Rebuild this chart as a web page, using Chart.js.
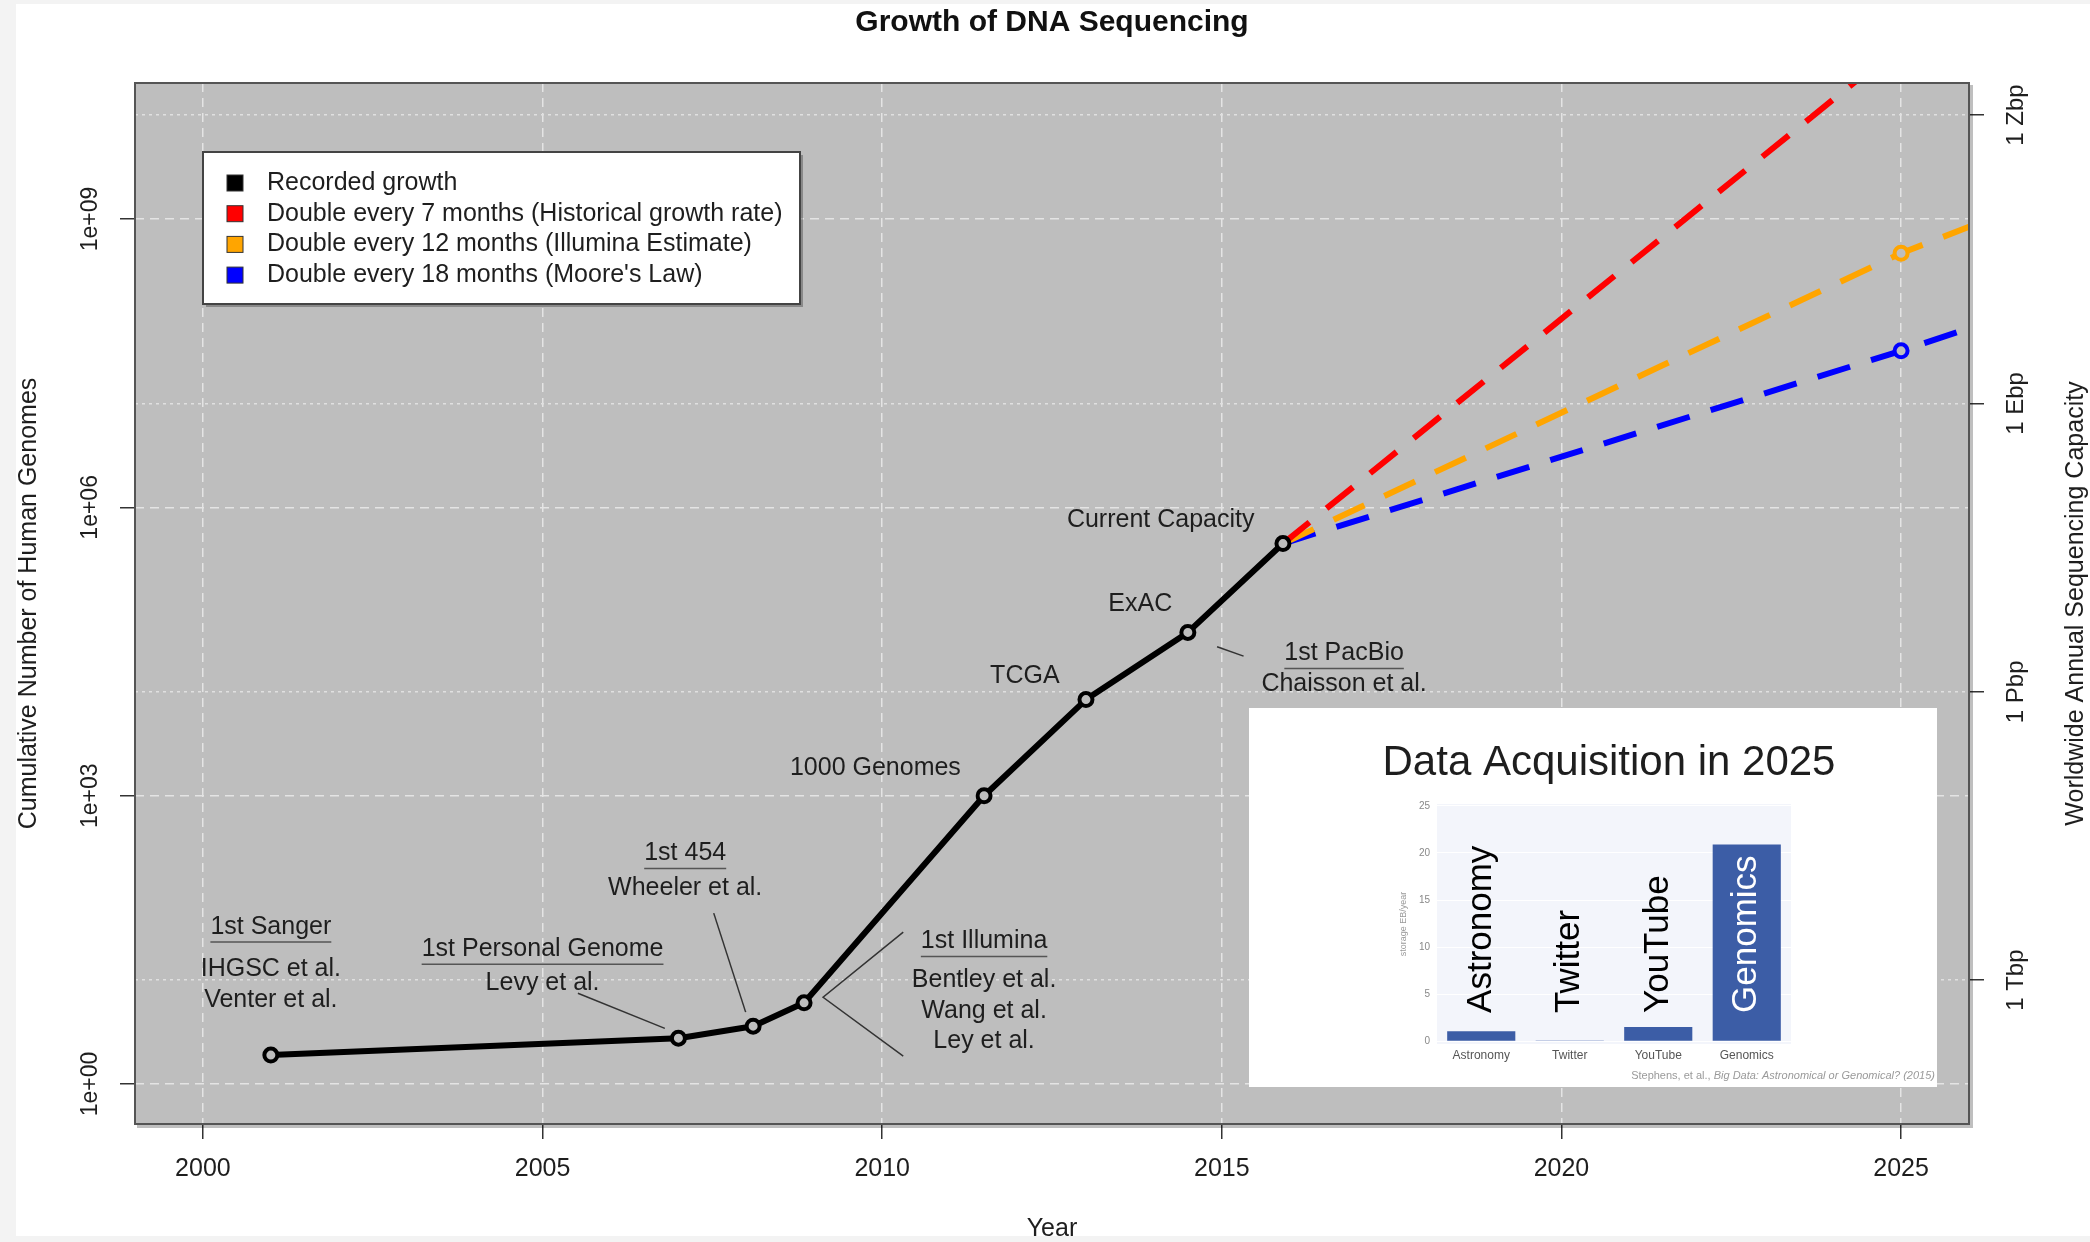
<!DOCTYPE html>
<html>
<head>
<meta charset="utf-8">
<title>Growth of DNA Sequencing</title>
<script src="https://cdn.jsdelivr.net/npm/chart.js@4.4.1/dist/chart.umd.min.js"></script>
<style>
  html, body { margin: 0; padding: 0; background: #f3f3f3; }
  #wrap { position: relative; width: 2090px; height: 1242px; overflow: hidden; }
  #sheet { position: absolute; left: 16px; top: 4px; width: 2074px; height: 1232px; background: #fff; }
  #main { position: absolute; left: 0; top: 0; }
  #inset { position: absolute; left: 1249px; top: 708px; background: #fff; }
</style>
</head>
<body>
<div id="wrap">
  <div id="sheet"></div>
  <canvas id="main" width="2090" height="1242"></canvas>
  <canvas id="inset" width="688" height="379"></canvas>
</div>
<script>
// recorded growth (cumulative human genomes)
const recordedYears = [2001.0, 2007.0, 2008.1, 2008.85, 2011.5, 2013.0, 2014.5, 2015.9];
const recordedGenomes = [2, 3, 4, 7, 1000, 10000, 50000, 420000];

// projections from current capacity
const projectionYears = [2015.9, 2025, 2026];
const double7 = [420000, 6.5e10, 2.4e11];
const double12 = [420000, 4.4e8, 8.3e8];
const double18 = [420000, 4.25e7, 7.3e7];

// axes
const yearTicks = [2000, 2005, 2010, 2015, 2020, 2025];
const genomeTicks = [1, 1e3, 1e6, 1e9];
const genomeTickLabels = ['1e+00', '1e+03', '1e+06', '1e+09'];
const capacityTicks = [1e12, 1e15, 1e18, 1e21];
const capacityTickLabels = ['1 Tbp', '1 Pbp', '1 Ebp', '1 Zbp'];
const bpPerGenome = 8.3e10;
const yMin = 0.384, yMax = 2.6e10;

// text notes: [text, year, genomes, underlined]
const notes = [
  ['1st Sanger', 2001.0, 43, true],
  ['IHGSC et al.', 2001.0, 15.6, false],
  ['Venter et al.', 2001.0, 7.5, false],
  ['1st Personal Genome', 2005.0, 25.2, true],
  ['Levy et al.', 2005.0, 11.3, false],
  ['1st 454', 2007.1, 250, true],
  ['Wheeler et al.', 2007.1, 109, false],
  ['1st Illumina', 2011.5, 30.5, true],
  ['Bentley et al.', 2011.5, 12.1, false],
  ['Wang et al.', 2011.5, 5.8, false],
  ['Ley et al.', 2011.5, 2.78, false],
  ['1000 Genomes', 2009.9, 1940, false],
  ['TCGA', 2012.1, 17500, false],
  ['ExAC', 2013.8, 98000, false],
  ['Current Capacity', 2014.1, 736000, false],
  ['1st PacBio', 2016.8, 30200, true],
  ['Chaisson et al.', 2016.8, 14500, false]
];
const leaders = [
  [[2005.52, 8.8], [2006.8, 3.8]],
  [[2007.52, 60], [2007.99, 5.6]],
  [[2010.31, 38], [2009.13, 8.0], [2010.31, 1.95]],
  [[2014.93, 35400], [2015.32, 28300]]
];

// inset: data acquisition in 2025
const insetCategories = ['Astronomy', 'Twitter', 'YouTube', 'Genomics'];
const insetStorage = [1.05, 0.03, 1.5, 20.9];
const insetTicks = [0, 5, 10, 15, 20, 25];

const FONT = '"Liberation Sans", Arial, Helvetica, sans-serif';
Chart.defaults.font.family = FONT;
Chart.defaults.color = '#1e1e1e';

function pts(xs, ys) {
  return xs.map((x, i) => ({ x: x, y: ys[i] }));
}

const mainDecor = {
  id: 'mainDecor',
  beforeDraw(chart) {
    const { ctx, chartArea: a } = chart;
    ctx.save();
    ctx.fillStyle = '#bebebe';
    ctx.fillRect(a.left, a.top, a.right - a.left, a.bottom - a.top);
    ctx.restore();
  },
  afterDatasetsDraw(chart) {
    const { ctx, scales: { x, y } } = chart;
    ctx.save();
    ctx.strokeStyle = '#333';
    ctx.lineWidth = 1.5;
    leaders.forEach(path => {
      ctx.beginPath();
      path.forEach(([yr, v], i) => {
        const px = x.getPixelForValue(yr), py = y.getPixelForValue(v);
        if (i) ctx.lineTo(px, py); else ctx.moveTo(px, py);
      });
      ctx.stroke();
    });
    ctx.font = '25px ' + FONT;
    ctx.textAlign = 'center';
    ctx.textBaseline = 'middle';
    notes.forEach(([text, yr, v, underline]) => {
      const px = x.getPixelForValue(yr), py = y.getPixelForValue(v);
      ctx.fillStyle = '#1e1e1e';
      ctx.fillText(text, px, py);
      if (underline) {
        const w = ctx.measureText(text).width;
        ctx.strokeStyle = '#555';
        ctx.beginPath();
        ctx.moveTo(px - w / 2, py + 15);
        ctx.lineTo(px + w / 2, py + 15);
        ctx.stroke();
      }
    });
    ctx.restore();
  },
  afterDraw(chart) {
    const { ctx, chartArea: a, scales } = chart;
    ctx.save();
    // plot frame
    ctx.strokeStyle = 'rgba(0,0,0,0.25)';
    ctx.lineWidth = 3;
    ctx.beginPath();
    ctx.moveTo(a.right + 2.5, a.top + 2);
    ctx.lineTo(a.right + 2.5, a.bottom + 2.5);
    ctx.lineTo(a.left + 2, a.bottom + 2.5);
    ctx.stroke();
    ctx.strokeStyle = '#555';
    ctx.lineWidth = 2;
    ctx.strokeRect(a.left, a.top, a.right - a.left, a.bottom - a.top);

    // rotated y tick labels
    ctx.fillStyle = '#1e1e1e';
    ctx.textAlign = 'center';
    ctx.textBaseline = 'middle';
    ctx.font = '23px ' + FONT;
    genomeTicks.forEach((v, i) => {
      ctx.save();
      ctx.translate(a.left - 44, scales.y.getPixelForValue(v));
      ctx.rotate(-Math.PI / 2);
      ctx.fillText(genomeTickLabels[i], 0, 0);
      ctx.restore();
    });
    ctx.font = '24px ' + FONT;
    capacityTicks.forEach((v, i) => {
      ctx.save();
      ctx.translate(a.right + 47, scales.y2.getPixelForValue(v));
      ctx.rotate(-Math.PI / 2);
      ctx.fillText(capacityTickLabels[i], 0, 0);
      ctx.restore();
    });
    ctx.font = '25px ' + FONT;
    ctx.save();
    ctx.translate(a.right + 107, (a.top + a.bottom) / 2);
    ctx.rotate(-Math.PI / 2);
    ctx.fillText('Worldwide Annual Sequencing Capacity', 0, 0);
    ctx.restore();

    // legend box
    const lx = a.left + 68, ly = a.top + 69, lw = 597, lh = 152;
    ctx.fillStyle = 'rgba(0,0,0,0.28)';
    ctx.fillRect(lx + 3, ly + 3, lw, lh);
    ctx.fillStyle = '#fff';
    ctx.fillRect(lx, ly, lw, lh);
    ctx.strokeStyle = '#444';
    ctx.lineWidth = 2;
    ctx.strokeRect(lx, ly, lw, lh);
    ctx.textAlign = 'left';
    chart.data.datasets.forEach((ds, i) => {
      const cy = ly + 31 + i * 30.7;
      ctx.fillStyle = ds.borderColor;
      ctx.fillRect(lx + 24, cy - 8, 16, 16);
      ctx.strokeStyle = '#333';
      ctx.lineWidth = 1;
      ctx.strokeRect(lx + 24, cy - 8, 16, 16);
      ctx.fillStyle = '#1e1e1e';
      ctx.fillText(ds.label, lx + 64, cy);
    });
    ctx.restore();
  }
};

const gridStyle = {
  color: '#e4e4e4',
  lineWidth: 1.5,
  tickLength: 15,
  tickColor: '#333',
  tickWidth: 1.5,
  tickBorderDash: []
};

new Chart(document.getElementById('main'), {
  type: 'line',
  data: {
    datasets: [
      {
        label: 'Recorded growth',
        data: pts(recordedYears, recordedGenomes),
        borderColor: '#000000',
        borderWidth: 6,
        borderJoinStyle: 'round',
        pointRadius: 6.5,
        pointBorderWidth: 4,
        pointBackgroundColor: '#bebebe',
        pointBorderColor: '#000',
        order: 0
      },
      {
        label: 'Double every 7 months (Historical growth rate)',
        data: pts(projectionYears, double7),
        borderColor: '#ff0000',
        borderWidth: 6,
        borderDash: [34, 22],
        pointRadius: 0,
        clip: 0,
        order: 1
      },
      {
        label: 'Double every 12 months (Illumina Estimate)',
        data: pts(projectionYears, double12),
        borderColor: '#ffa500',
        borderWidth: 6,
        borderDash: [34, 22],
        pointRadius: [0, 6.5, 0],
        pointBorderWidth: 4,
        pointBorderColor: '#ffa500',
        pointBackgroundColor: '#bebebe',
        clip: 0,
        order: 1
      },
      {
        label: "Double every 18 months (Moore's Law)",
        data: pts(projectionYears, double18),
        borderColor: '#0000ff',
        borderWidth: 6,
        borderDash: [34, 22],
        pointRadius: [0, 6.5, 0],
        pointBorderWidth: 4,
        pointBorderColor: '#0000ff',
        pointBackgroundColor: '#bebebe',
        clip: 0,
        order: 1
      }
    ]
  },
  options: {
    responsive: false,
    animation: false,
    events: [],
    layout: { padding: 0 },
    plugins: {
      legend: { display: false },
      tooltip: { enabled: false },
      title: {
        display: true,
        text: 'Growth of DNA Sequencing',
        fullSize: false,
        color: '#111',
        font: { size: 30, weight: 'bold' },
        padding: { top: 5, bottom: 42 }
      }
    },
    scales: {
      x: {
        type: 'linear',
        min: 1999,
        max: 2026,
        afterBuildTicks: s => { s.ticks = yearTicks.map(v => ({ value: v })); },
        afterFit: s => { s.height = 118; },
        ticks: { callback: v => String(v), font: { size: 25 }, color: '#1e1e1e', padding: 15, maxRotation: 0, autoSkip: false },
        grid: gridStyle,
        border: { display: false, dash: [9, 6] },
        title: { display: true, text: 'Year', font: { size: 25, lineHeight: 1.0 }, color: '#1e1e1e', padding: { top: 0, bottom: 0 } }
      },
      y: {
        type: 'logarithmic',
        position: 'left',
        min: yMin,
        max: yMax,
        afterBuildTicks: s => { s.ticks = genomeTicks.map(v => ({ value: v })); },
        afterFit: s => { s.width = 135; },
        ticks: { display: false },
        grid: gridStyle,
        border: { display: false, dash: [9, 6] },
        title: { display: true, text: 'Cumulative Number of Human Genomes', font: { size: 25 }, color: '#1e1e1e', padding: { top: 14, bottom: 0 } }
      },
      y2: {
        type: 'logarithmic',
        position: 'right',
        min: yMin * bpPerGenome,
        max: yMax * bpPerGenome,
        afterBuildTicks: s => { s.ticks = capacityTicks.map(v => ({ value: v })); },
        afterFit: s => { s.width = 121; },
        ticks: { display: false },
        grid: Object.assign({}, gridStyle, { color: '#e0e0e0' }),
        border: { display: false, dash: [3, 4] }
      }
    }
  },
  plugins: [mainDecor]
});

// inset bar chart
const insetDecor = {
  id: 'insetDecor',
  beforeDraw(chart) {
    const { ctx, chartArea: a } = chart;
    ctx.save();
    ctx.fillStyle = '#f3f5fb';
    ctx.fillRect(a.left, a.top, a.right - a.left, a.bottom - a.top);
    ctx.restore();
  },
  afterDatasetsDraw(chart) {
    const { ctx, chartArea: a, scales: { x, y } } = chart;
    ctx.save();
    ctx.font = '35px ' + FONT;
    ctx.textAlign = 'left';
    ctx.textBaseline = 'middle';
    insetCategories.forEach((c, i) => {
      ctx.save();
      ctx.translate(x.getPixelForValue(i), y.getPixelForValue(3));
      ctx.rotate(-Math.PI / 2);
      ctx.fillStyle = insetStorage[i] > 10 ? '#ffffff' : '#000000';
      ctx.fillText(c, 0, 0);
      ctx.restore();
    });
    // inset title
    ctx.font = '42px ' + FONT;
    ctx.textAlign = 'center';
    ctx.fillStyle = '#1e1e1e';
    ctx.fillText('Data Acquisition in 2025', (a.left + a.right) / 2 - 5, 55);
    // source line
    ctx.textAlign = 'right';
    ctx.fillStyle = '#9a9a9a';
    ctx.font = 'italic 11px ' + FONT;
    const tail = 'Big Data: Astronomical or Genomical? (2015)';
    ctx.fillText(tail, chart.width - 2, 368);
    const tw = ctx.measureText(tail).width;
    ctx.font = '11px ' + FONT;
    ctx.fillText('Stephens, et al., ', chart.width - 2 - tw, 368);
    ctx.restore();
  }
};

new Chart(document.getElementById('inset'), {
  type: 'bar',
  data: {
    labels: insetCategories,
    datasets: [{
      data: insetStorage,
      backgroundColor: '#3c5da6',
      barPercentage: 0.77,
      categoryPercentage: 1
    }]
  },
  options: {
    responsive: false,
    animation: false,
    events: [],
    layout: { padding: { top: 96, right: 146, left: 0, bottom: 0 } },
    plugins: { legend: { display: false }, tooltip: { enabled: false }, title: { display: false } },
    scales: {
      x: {
        afterFit: s => { s.height = 43; },
        grid: { display: false, drawTicks: false },
        border: { display: false },
        ticks: { font: { size: 12 }, color: '#555', padding: 4 }
      },
      y: {
        min: -0.3,
        max: 25.2,
        afterBuildTicks: s => { s.ticks = insetTicks.map(v => ({ value: v })); },
        afterFit: s => { s.width = 188; },
        grid: { color: '#ffffff', drawTicks: false },
        border: { display: false },
        ticks: { font: { size: 10 }, color: '#888', padding: 7 },
        title: { display: true, text: 'storage EB/year', font: { size: 9 }, color: '#999', padding: { top: 149, bottom: 0 } }
      }
    }
  },
  plugins: [insetDecor]
});
</script>
</body>
</html>
